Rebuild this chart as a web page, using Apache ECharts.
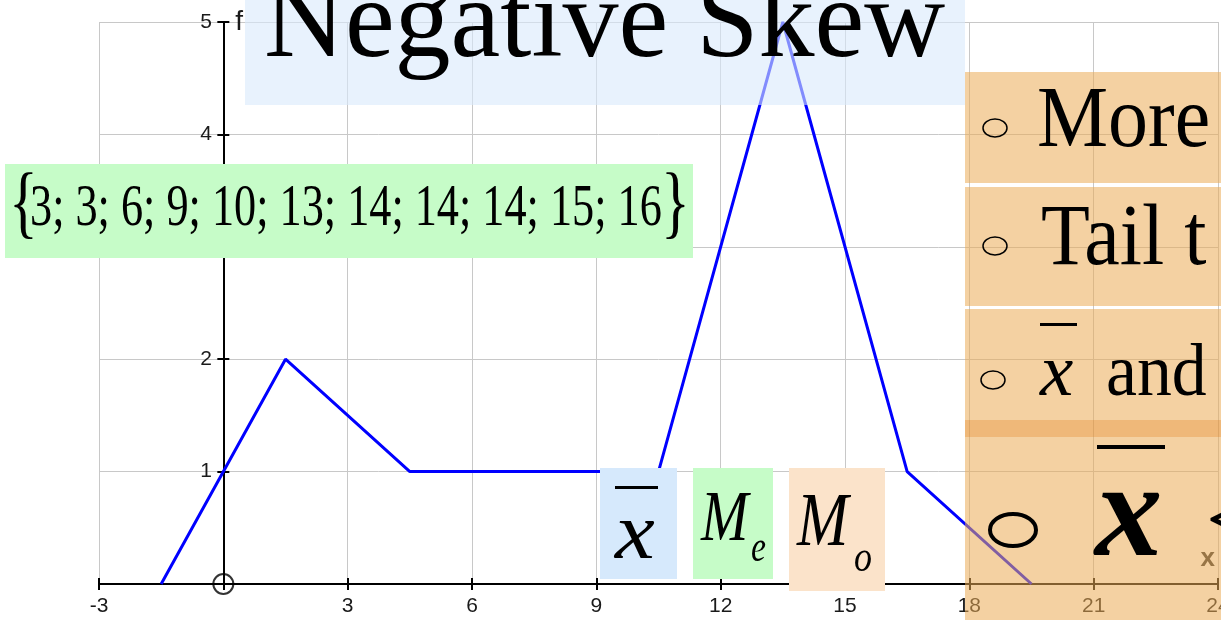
<!DOCTYPE html>
<html>
<head>
<meta charset="utf-8">
<title>Negative Skew</title>
<script src="https://cdn.jsdelivr.net/npm/echarts@6/dist/echarts.min.js"></script>
<style>
  html, body { margin: 0; padding: 0; background: #fff; }
  #chart { width: 1221px; height: 620px; }
</style>
</head>
<body>
<div id="chart"></div>
<script>
// frequency polygon: class mid points and frequencies
const classMids = [-1.5, 1.5, 4.5, 10.5, 13.5, 16.5, 19.5]
const frequencies = [0, 2, 1, 1, 5, 1, 0]
const origin = [0, 0]
const sampleValues = [3, 3, 6, 9, 10, 13, 14, 14, 14, 15, 16]
const xRange = [-3, 24]
const xStep = 3
const yRange = [0, 5]
const yStep = 1
const titleText = 'Negative Skew'
const bulletTexts = ['More', 'Tail t', 'and']

const serif = '"Liberation Serif", "Times New Roman", serif'
const sans = '"Liberation Sans", Arial, sans-serif'

const chart = echarts.init(document.getElementById('chart'))

const polygon = classMids.map((x, i) => [x, frequencies[i]])

const txt = (text, x, y, size, opts = {}) => ({
  type: 'text',
  z: 100,
  x: x,
  y: y,
  scaleX: opts.scaleX || 1,
  style: {
    text: text,
    x: 0,
    y: 0,
    fill: '#000',
    fontFamily: serif,
    fontSize: size,
    fontStyle: opts.italic ? 'italic' : 'normal',
    fontWeight: opts.bold ? 'bold' : 'normal',
    align: 'left',
    verticalAlign: 'middle'
  }
})

const box = (x, y, w, h, fill, opacity = 1) => ({
  type: 'rect',
  z: 90,
  shape: { x: x, y: y, width: w, height: h },
  style: { fill: fill, opacity: opacity }
})

const bar = (x, y, w, h) => ({
  type: 'rect',
  z: 100,
  shape: { x: x, y: y, width: w, height: h },
  style: { fill: '#000' }
})

const ring = (cx, cy, rx, ry, lw) => ({
  type: 'ellipse',
  z: 100,
  shape: { cx: cx, cy: cy, rx: rx, ry: ry },
  style: { fill: 'none', stroke: '#000', lineWidth: lw }
})

const hideZero = v => (v === 0 ? '' : String(v))

const baseAxisLine = { lineStyle: { color: '#000', width: 2 } }
const tickStyle = { color: '#000', width: 2 }

const option = {
  animation: false,
  backgroundColor: '#fff',
  grid: {
    left: 99,
    right: 3,
    top: 22,
    bottom: 36,
    containLabel: false,
    outerBoundsMode: 'none'
  },
  xAxis: [
    {
      type: 'value',
      position: 'bottom',
      min: xRange[0],
      max: xRange[1],
      interval: xStep,
      axisLine: { show: true, onZero: true, ...baseAxisLine },
      axisTick: { show: true, length: 6, lineStyle: tickStyle },
      axisLabel: {
        formatter: hideZero,
        fontSize: 21,
        fontFamily: sans,
        color: '#1a1a1a',
        margin: 12,
        showMinLabel: true,
        showMaxLabel: true
      },
      splitLine: { show: true, lineStyle: { color: '#c8c8c8', width: 1 } },
      name: 'x',
      nameLocation: 'end',
      nameGap: 0,
      nameMoveOverlap: false,
      nameTextStyle: {
        fontSize: 26,
        fontWeight: 'bold',
        fontFamily: sans,
        color: '#333',
        align: 'right',
        verticalAlign: 'bottom',
        padding: [0, 3, 12, 0]
      }
    },
    {
      type: 'value',
      position: 'bottom',
      min: xRange[0],
      max: xRange[1],
      interval: xStep,
      axisLine: { show: true, onZero: true, lineStyle: { opacity: 0 } },
      axisTick: { show: true, inside: true, length: 6, lineStyle: tickStyle },
      axisLabel: { show: false },
      splitLine: { show: false }
    }
  ],
  yAxis: [
    {
      type: 'value',
      position: 'left',
      min: yRange[0],
      max: yRange[1],
      interval: yStep,
      axisLine: { show: true, onZero: true, ...baseAxisLine },
      axisTick: { show: true, length: 6, lineStyle: tickStyle },
      axisLabel: {
        formatter: hideZero,
        fontSize: 21,
        fontFamily: sans,
        color: '#1a1a1a',
        // labels stay at the grid edge, so pull them over to the zero line
        margin: -113
      },
      splitLine: { show: true, lineStyle: { color: '#c8c8c8', width: 1 } },
      name: 'f',
      nameLocation: 'end',
      nameGap: 0,
      nameMoveOverlap: false,
      nameTextStyle: {
        fontSize: 28,
        fontFamily: sans,
        color: '#1a1a1a',
        align: 'left',
        verticalAlign: 'middle',
        padding: [0, 0, 0, 12]
      }
    },
    {
      type: 'value',
      position: 'left',
      min: yRange[0],
      max: yRange[1],
      interval: yStep,
      axisLine: { show: true, onZero: true, lineStyle: { opacity: 0 } },
      axisTick: { show: true, inside: true, length: 6, lineStyle: tickStyle },
      axisLabel: { show: false },
      splitLine: { show: false }
    }
  ],
  series: [
    {
      type: 'line',
      data: polygon,
      showSymbol: false,
      clip: false,
      z: 3,
      lineStyle: { color: '#0000ff', width: 3 },
      itemStyle: { color: '#0000ff' }
    },
    {
      type: 'scatter',
      data: [origin],
      symbol: 'circle',
      symbolSize: 20,
      z: 5,
      itemStyle: { color: 'rgba(0,0,0,0)', borderColor: '#000', borderWidth: 2 }
    }
  ],
  graphic: {
    elements: [
      // title
      box(245, 0, 720, 105, '#d9eafb', 0.6),
      txt(titleText, 264, 27, 112),

      // data set
      box(5, 164, 688, 94, '#c6fcc8'),
      txt('{', 9, 207, 80, { scaleX: 0.75 }),
      txt(sampleValues.join('; '), 30, 209, 59, { scaleX: 0.75 }),
      txt('}', 661, 207, 80, { scaleX: 0.75 }),

      // mean / median / mode labels
      box(600, 468, 77, 111, '#d6e9fc'),
      bar(615, 486, 43, 3),
      txt('x', 615, 537, 80, { italic: true, scaleX: 1.12 }),
      box(693, 468, 80, 111, '#c6fcc8'),
      txt('M', 701, 521, 71, { italic: true, scaleX: 0.8 }),
      txt('e', 751, 549, 45, { italic: true, scaleX: 0.75 }),
      box(789, 468, 96, 123, '#fbe3ca'),
      txt('M', 797, 525, 77, { italic: true, scaleX: 0.8 }),
      txt('o', 854, 559, 45, { italic: true, scaleX: 0.8 }),

      // right bullet panel
      box(965, 72, 256, 111, '#ebab55', 0.55),
      box(965, 187, 256, 119, '#ebab55', 0.55),
      box(965, 309, 256, 111, '#ebab55', 0.55),
      box(965, 420, 256, 17, '#e8973a', 0.68),
      box(965, 437, 256, 183, '#ebab55', 0.55),
      ring(995, 128, 12, 9, 1.5),
      txt(bulletTexts[0], 1037, 123, 86, { scaleX: 0.93 }),
      ring(995, 246, 12, 9, 1.5),
      txt(bulletTexts[1], 1041, 241, 86, { scaleX: 0.93 }),
      ring(993, 380, 12, 9, 1.5),
      bar(1040, 323, 37, 3),
      txt('x', 1040, 375, 75, { italic: true }),
      txt(bulletTexts[2], 1106, 375, 75, { scaleX: 0.93 }),
      ring(1013, 530, 23, 16, 4),
      bar(1097, 445, 68, 4),
      txt('x', 1095, 520, 135, { italic: true, bold: true }),
      txt('<', 1205, 527, 110)
    ]
  }
}

chart.setOption(option)
</script>
</body>
</html>
